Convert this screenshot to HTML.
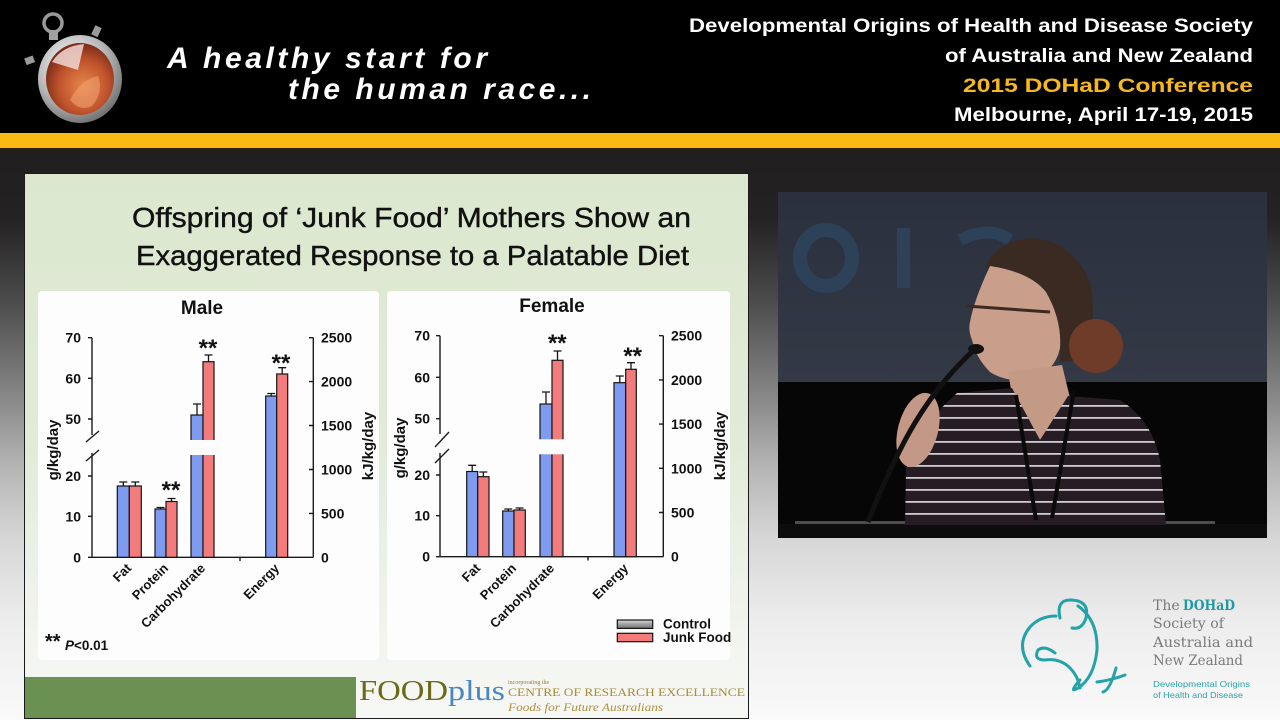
<!DOCTYPE html>
<html><head><meta charset="utf-8">
<style>
html,body{margin:0;padding:0;background:#000;width:1280px;height:720px;overflow:hidden;}
svg{display:block;}
text{font-family:"Liberation Sans",Arial,sans-serif;}
.b{font-weight:bold;}
.ax{stroke:#1a1a1a;stroke-width:1.4;fill:none;}
.bl{fill:#7f9bf0;stroke:#151515;stroke-width:1.2;}
.rd{fill:#f47b7b;stroke:#151515;stroke-width:1.2;}
.eb{stroke:#151515;stroke-width:1.3;fill:none;}
.tk{font-size:14px;font-weight:bold;fill:#111;}
.xl{font-size:13px;font-weight:bold;fill:#111;}
.st{font-size:24px;font-weight:bold;fill:#111;}
.sf{font-family:"Liberation Serif",serif;}
.ds{font-family:"DejaVu Serif",serif;}
</style></head><body>
<svg width="1280" height="720" viewBox="0 0 1280 720" xmlns="http://www.w3.org/2000/svg">
<defs>
<linearGradient id="bg" x1="0" y1="150" x2="0" y2="720" gradientUnits="userSpaceOnUse">
<stop offset="0" stop-color="#201e1e"/>
<stop offset="0.12" stop-color="#242222"/>
<stop offset="0.26" stop-color="#4a4a4a"/>
<stop offset="0.41" stop-color="#7f7f7f"/>
<stop offset="0.556" stop-color="#b5b5b5"/>
<stop offset="0.68" stop-color="#d6d6d6"/>
<stop offset="0.82" stop-color="#ececec"/>
<stop offset="1" stop-color="#fafafa"/>
</linearGradient>
<linearGradient id="sl" x1="0" y1="174" x2="0" y2="718" gradientUnits="userSpaceOnUse">
<stop offset="0" stop-color="#dbe7ce"/>
<stop offset="0.5" stop-color="#e2ebd8"/>
<stop offset="0.85" stop-color="#f2f4ef"/>
<stop offset="1" stop-color="#f7f8f5"/>
</linearGradient>
<linearGradient id="vtop" x1="0" y1="192" x2="0" y2="382" gradientUnits="userSpaceOnUse">
<stop offset="0" stop-color="#2a303d"/>
<stop offset="1" stop-color="#343946"/>
</linearGradient>
<radialGradient id="silver" cx="0.4" cy="0.35" r="0.7">
<stop offset="0" stop-color="#ffffff"/>
<stop offset="0.6" stop-color="#b8b8b8"/>
<stop offset="1" stop-color="#6a6a6a"/>
</radialGradient>
<radialGradient id="face" cx="0.55" cy="0.6" r="0.6">
<stop offset="0" stop-color="#e8874e"/>
<stop offset="0.6" stop-color="#c0532c"/>
<stop offset="1" stop-color="#7a2a18"/>
</radialGradient>
<linearGradient id="ctl" x1="0" y1="0" x2="0" y2="1">
<stop offset="0" stop-color="#d8d8d8"/>
<stop offset="0.5" stop-color="#a0a0a0"/>
<stop offset="1" stop-color="#707070"/>
</linearGradient>
<pattern id="stripes" x="0" y="388" width="20" height="12" patternUnits="userSpaceOnUse">
<rect x="0" y="0" width="20" height="12" fill="#261c24"/>
<rect x="0" y="5" width="20" height="1.8" fill="#d0cbce"/>
</pattern>
<clipPath id="vclip"><rect x="778" y="192" width="489" height="346"/></clipPath>
</defs>

<!-- page background -->
<rect x="0" y="0" width="1280" height="720" fill="url(#bg)"/>
<!-- header -->
<rect x="0" y="0" width="1280" height="133" fill="#000"/>
<rect x="0" y="133" width="1280" height="15" fill="#fdb913"/>
<rect x="0" y="148" width="1280" height="2" fill="#2e1e08"/>

<!-- stopwatch -->
<g>
<circle cx="53" cy="23" r="9" fill="none" stroke="#9a9a9a" stroke-width="3.5"/>
<rect x="49" y="30" width="9" height="10" fill="#a0a0a0"/>
<rect x="93" y="26" width="7" height="10" fill="#9a9a9a" transform="rotate(25 96 31)"/>
<rect x="25" y="57" width="9" height="7" fill="#9a9a9a" transform="rotate(-20 29 60)"/>
<ellipse cx="80" cy="79" rx="42" ry="44" fill="url(#silver)"/>
<ellipse cx="80" cy="79" rx="34" ry="36" fill="url(#face)"/>
<path d="M52,62 Q62,46 84,44 L78,70 Z" fill="#f0d8d4" opacity="0.85"/>
<path d="M70,100 Q80,80 98,76 Q104,92 92,106 Q80,112 70,100Z" fill="#f0a070" opacity="0.6"/>
</g>
<text x="167" y="68" font-size="30" font-weight="bold" font-style="italic" fill="#fff" textLength="320">A healthy start for</text>
<text x="288" y="99" font-size="30" font-weight="bold" font-style="italic" fill="#fff" textLength="303">the human race...</text>

<text x="1253" y="32" font-size="19.5" font-weight="bold" fill="#fff" text-anchor="end" textLength="564" lengthAdjust="spacingAndGlyphs">Developmental Origins of Health and Disease Society</text>
<text x="1253" y="62" font-size="19.5" font-weight="bold" fill="#fff" text-anchor="end" textLength="308" lengthAdjust="spacingAndGlyphs">of Australia and New Zealand</text>
<text x="1253" y="92" font-size="19.5" font-weight="bold" fill="#f6b81e" text-anchor="end" textLength="290" lengthAdjust="spacingAndGlyphs">2015 DOHaD Conference</text>
<text x="1253" y="121" font-size="19.5" font-weight="bold" fill="#fff" text-anchor="end" textLength="299" lengthAdjust="spacingAndGlyphs">Melbourne, April 17-19, 2015</text>

<!-- slide -->
<rect x="24.5" y="173.5" width="724" height="545" fill="url(#sl)" stroke="#1a1a1a" stroke-width="1"/>
<text x="132" y="227" font-size="28" fill="#111" stroke="#111" stroke-width="0.4" textLength="559" lengthAdjust="spacingAndGlyphs">Offspring of ‘Junk Food’ Mothers Show an</text>
<text x="136" y="265" font-size="28" fill="#111" stroke="#111" stroke-width="0.4" textLength="553" lengthAdjust="spacingAndGlyphs">Exaggerated Response to a Palatable Diet</text>

<rect x="38" y="291" width="341" height="369" rx="4" fill="#fdfdfd"/>
<rect x="387" y="291" width="343" height="369" rx="4" fill="#fdfdfd"/>

<!-- MALE CHART -->
<text x="202" y="314" font-size="19" class="b" text-anchor="middle" fill="#111">Male</text>
<path class="ax" d="M92,337.7V435M92,453V557.3M88,337.7H92M88,378.3H92M88,419H92M88,476H92M88,516.3H92M88,557.3H92"/>
<path class="ax" stroke-width="1.1" d="M86,442L99,431M86,461L99,450"/>
<path class="ax" d="M313.3,337.7V557.3M309,337.7H313.3M309,381.6H313.3M309,425.5H313.3M309,469.5H313.3M309,513.4H313.3M309,557.3H313.3M92,557.3H313.3M240,557.3V561"/>
<g class="tk" text-anchor="end">
<text x="81" y="342.7">70</text><text x="81" y="383.3">60</text><text x="81" y="424">50</text>
<text x="81" y="481">20</text><text x="81" y="521.3">10</text><text x="81" y="562.3">0</text>
</g>
<g class="tk">
<text x="321" y="342.7">2500</text><text x="321" y="386.6">2000</text><text x="321" y="430.5">1500</text>
<text x="321" y="474.5">1000</text><text x="321" y="518.4">500</text><text x="321" y="562.3">0</text>
</g>
<text transform="translate(58,450) rotate(-90)" text-anchor="middle" font-size="15" class="b" fill="#111">g/kg/day</text>
<text transform="translate(373,446) rotate(-90)" text-anchor="middle" font-size="15" class="b" fill="#111">kJ/kg/day</text>
<!-- bars -->
<path class="eb" d="M123.3,486V482M119.3,482H127.3M135.3,486V482M131.3,482H139.3M160.5,509V507.5M156.5,507.5H164.5M171.5,501.5V498.5M167.5,498.5H175.5M197,415V404M193,404H201M208.5,361.7V355M204.5,355H212.5M271.2,396V393.5M267.2,393.5H275.2M282.2,374V367.7M278.2,367.7H286.2"/>
<rect class="bl" x="117.3" y="486" width="12" height="71.3"/>
<rect class="rd" x="129.3" y="486" width="12" height="71.3"/>
<rect class="bl" x="155" y="509" width="11" height="48.3"/>
<rect class="rd" x="166" y="501.5" width="11" height="55.8"/>
<rect class="bl" x="191" y="415" width="12" height="142.3"/>
<rect class="rd" x="203" y="361.7" width="11" height="195.6"/>
<rect class="bl" x="265.7" y="396" width="11" height="161.3"/>
<rect class="rd" x="276.7" y="374" width="11" height="183.3"/>
<rect x="188" y="440" width="28" height="15" fill="#fdfdfd"/>
<g class="st" text-anchor="middle">
<text x="208" y="356">**</text><text x="281" y="371">**</text><text x="171" y="498">**</text>
</g>
<g class="xl" text-anchor="end">
<text transform="translate(132,569) rotate(-45)">Fat</text>
<text transform="translate(169,569) rotate(-45)">Protein</text>
<text transform="translate(206,569) rotate(-45)">Carbohydrate</text>
<text transform="translate(280,569) rotate(-45)">Energy</text>
</g>
<text x="45" y="648" font-size="20" class="b" fill="#111">**</text>
<text x="65" y="650" font-size="13.5" class="b" fill="#111"><tspan font-style="italic">P</tspan>&lt;0.01</text>

<!-- FEMALE CHART -->
<text x="552" y="312" font-size="19" class="b" text-anchor="middle" fill="#111">Female</text>
<path class="ax" d="M440,335.7V434M440,453V556.7M436,335.7H440M436,377.3H440M436,418.7H440M436,475H440M436,515.7H440M436,556.7H440"/>
<path class="ax" stroke-width="1.1" d="M435,447L449,432M435,463L449,449"/>
<path class="ax" d="M663.3,335.7V556.7M659,335.7H663.3M659,379.9H663.3M659,424.1H663.3M659,468.3H663.3M659,512.5H663.3M659,556.7H663.3M440,556.7H663.3M588,556.7V560.5"/>
<g class="tk" text-anchor="end">
<text x="430" y="340.7">70</text><text x="430" y="382.3">60</text><text x="430" y="423.7">50</text>
<text x="430" y="480">20</text><text x="430" y="520.7">10</text><text x="430" y="561.7">0</text>
</g>
<g class="tk">
<text x="671" y="340.7">2500</text><text x="671" y="384.9">2000</text><text x="671" y="429.1">1500</text>
<text x="671" y="473.3">1000</text><text x="671" y="517.5">500</text><text x="671" y="561.7">0</text>
</g>
<text transform="translate(405,448) rotate(-90)" text-anchor="middle" font-size="15" class="b" fill="#111">g/kg/day</text>
<text transform="translate(725,446) rotate(-90)" text-anchor="middle" font-size="15" class="b" fill="#111">kJ/kg/day</text>
<path class="eb" d="M472.2,471.5V465.3M468.2,465.3H476.2M483.3,476.7V472M479.3,472H487.3M508.3,511V509M504.3,509H512.3M519.6,510V508M515.6,508H523.6M546,404V392M542,392H550M557.5,360.3V351M553.5,351H561.5M619.8,382.7V376M615.8,376H623.8M631,369.3V362.7M627,362.7H635"/>
<rect class="bl" x="466.7" y="471.5" width="11" height="85.2"/>
<rect class="rd" x="477.7" y="476.7" width="11.3" height="80"/>
<rect class="bl" x="502.7" y="511" width="11.3" height="45.7"/>
<rect class="rd" x="514" y="510" width="11.3" height="46.7"/>
<rect class="bl" x="540" y="404" width="12" height="152.7"/>
<rect class="rd" x="552" y="360.3" width="11" height="196.4"/>
<rect class="bl" x="614" y="382.7" width="11.7" height="174"/>
<rect class="rd" x="625.7" y="369.3" width="10.6" height="187.4"/>
<rect x="537" y="439.3" width="29" height="15" fill="#fdfdfd"/>
<g class="st" text-anchor="middle">
<text x="557.3" y="351">**</text><text x="632.7" y="364">**</text>
</g>
<g class="xl" text-anchor="end">
<text transform="translate(481,569) rotate(-45)">Fat</text>
<text transform="translate(517,569) rotate(-45)">Protein</text>
<text transform="translate(555,569) rotate(-45)">Carbohydrate</text>
<text transform="translate(629,569) rotate(-45)">Energy</text>
</g>
<rect x="617.3" y="620" width="35.4" height="8.4" fill="url(#ctl)" stroke="#151515" stroke-width="1.2"/>
<rect x="617.3" y="633.3" width="35.4" height="8.4" fill="#f47b7b" stroke="#151515" stroke-width="1.2"/>
<text x="663" y="628.5" font-size="13.5" class="b" fill="#111">Control</text>
<text x="663" y="642" font-size="13.5" class="b" fill="#111">Junk Food</text>

<!-- footer -->
<rect x="25" y="677" width="331" height="41" fill="#6a9152"/>
<text class="sf" x="359" y="700" font-size="28" fill="#6b6a1c" textLength="89" lengthAdjust="spacingAndGlyphs">FOOD</text>
<text class="sf" x="448" y="700" font-size="28" fill="#4a86c0" textLength="57" lengthAdjust="spacingAndGlyphs">plus</text>
<text class="sf" x="508" y="684" font-size="6" fill="#9a7a30">incorporating the</text>
<text class="sf" x="508" y="696" font-size="12" fill="#a88a38" textLength="237" lengthAdjust="spacingAndGlyphs">CENTRE OF RESEARCH EXCELLENCE</text>
<text class="sf" x="508" y="711" font-size="12" font-style="italic" fill="#b08f3c" textLength="155" lengthAdjust="spacingAndGlyphs">Foods for Future Australians</text>

<!-- video -->
<g clip-path="url(#vclip)">
<rect x="778" y="192" width="489" height="190" fill="url(#vtop)"/>
<rect x="778" y="382" width="489" height="156" fill="#060606"/>
<ellipse cx="826" cy="258" rx="26" ry="28" fill="none" stroke="#2d4258" stroke-width="14"/>
<rect x="897" y="228" width="13" height="60" fill="#2d4258"/>
<path d="M960,240 Q990,225 1010,240" stroke="#2d4258" stroke-width="12" fill="none"/>
<rect x="795" y="521" width="420" height="3" fill="#4d4d4d"/>
<rect x="778" y="524" width="489" height="14" fill="#0c0c0c"/>
<!-- hair back + bun -->
<path d="M985,268 Q995,242 1030,238 Q1072,240 1090,282 Q1098,320 1085,360 L1060,362 Q1062,320 1046,292 Q1020,272 985,268Z" fill="#3a2a22"/>
<circle cx="1096" cy="346" r="27" fill="#6e3c28"/>
<!-- face -->
<path d="M990,266 Q1030,272 1046,292 Q1062,320 1060,348 Q1055,372 1030,380 Q1005,382 990,372 Q980,362 975,350 L972,340 Q968,330 970,322 Q974,300 990,266Z" fill="#c99f8c"/>
<path d="M966,306 L1050,312" stroke="#3a2a20" stroke-width="3"/>
<!-- neck -->
<path d="M1008,372 L1062,365 L1070,398 L1040,440 L1012,395Z" fill="#c39a86"/>
<!-- shirt -->
<path d="M957,393 L1012,388 L1040,440 L1068,396 L1120,400 Q1152,420 1160,460 L1166,525 L905,525 L906,470 Q915,430 957,393Z" fill="url(#stripes)"/>
<!-- lanyard -->
<path d="M1016,395 L1036,520 M1074,390 L1052,518" stroke="#0a0a0a" stroke-width="4" fill="none"/>
<!-- hand -->
<ellipse cx="918" cy="430" rx="20" ry="38" fill="#c49886" transform="rotate(15 918 430)"/>
<!-- mic -->
<path d="M976,348 Q930,390 900,450 Q880,490 868,522" stroke="#111" stroke-width="5" fill="none"/>
<ellipse cx="976" cy="349" rx="8" ry="5" fill="#111"/>
</g>

<!-- DOHaD logo -->
<g fill="none" stroke="#23a3a8" stroke-width="3" stroke-linecap="round">
<path d="M1030,666 Q1015,645 1030,627 Q1040,616 1056,616"/>
<path d="M1060,618 Q1056,600 1070,600 Q1090,600 1086,618 Q1082,630 1072,628"/>
<path d="M1078,606 Q1098,620 1097,650 Q1094,678 1078,688 Q1068,694 1080,680"/>
<path d="M1055,653 Q1045,645 1038,650 Q1033,660 1045,660 Q1060,658 1070,668 Q1078,676 1080,688"/>
<path d="M1116,668 Q1110,690 1103,692 M1097,682 Q1112,680 1125,675"/>
</g>
<text class="ds" x="1153" y="610" font-size="14" fill="#7a7a7a">The</text>
<text class="ds" x="1183" y="610" font-size="14" font-weight="bold" fill="#1f9aa0" textLength="52" lengthAdjust="spacingAndGlyphs">DOHaD</text>
<text class="ds" x="1153" y="628" font-size="14" fill="#7a7a7a" textLength="71" lengthAdjust="spacingAndGlyphs">Society of</text>
<text class="ds" x="1153" y="647" font-size="14" fill="#7a7a7a" textLength="100" lengthAdjust="spacingAndGlyphs">Australia and</text>
<text class="ds" x="1153" y="665" font-size="14" fill="#7a7a7a" textLength="90" lengthAdjust="spacingAndGlyphs">New Zealand</text>
<text x="1153" y="687" font-size="8.5" fill="#2aa3a8" textLength="97" lengthAdjust="spacingAndGlyphs">Developmental Origins</text>
<text x="1153" y="698" font-size="8.5" fill="#2aa3a8" textLength="90" lengthAdjust="spacingAndGlyphs">of Health and Disease</text>
</svg>
</body></html>
